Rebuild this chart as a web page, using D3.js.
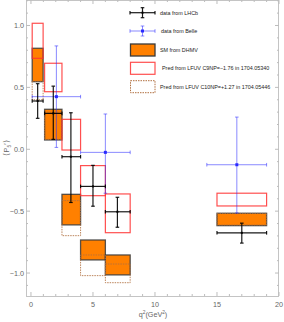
<!DOCTYPE html>
<html><head><meta charset="utf-8">
<script src="https://cdn.jsdelivr.net/npm/d3@7"></script>
<style>body{margin:0;background:#fff}svg{display:block;font-family:"Liberation Sans",Arial,sans-serif}</style>
</head><body><svg id="c" width="284" height="322"></svg>
<script>
// bins
const binLo = [0.1, 1.1, 2.5, 4, 6, 15];
const binHi = [0.98, 2.5, 4, 6, 8, 19];
// LHCb data
const lhcbX = [0.54, 1.8, 3.22, 5.0, 6.97, 17.0];
const lhcbY = [0.39, 0.29, -0.06, -0.30, -0.505, -0.675];
const lhcbUp = [0.14, 0.22, 0.355, 0.17, 0.117, 0.078];
const lhcbDn = [0.14, 0.21, 0.37, 0.16, 0.125, 0.083];
// Belle data
const belleLo = [0.1, 4, 14.18];
const belleHi = [4, 8, 19];
const belleX = [2.05, 6.0, 16.6];
const belleY = [0.425, -0.025, -0.125];
const belleUp = [0.41, 0.31, 0.385];
const belleDn = [0.41, 0.33, 0.39];
// SM DHMV
const smLo = [0.546, 0.075, -0.611, -0.894, -1.015, -0.617];
const smHi = [0.816, 0.323, -0.364, -0.733, -0.854, -0.517];
// LFUV C9NP = -1.76
const c9Lo = [0.735, 0.465, -0.006, -0.375, -0.674, -0.458];
const c9Hi = [1.018, 0.695, 0.242, -0.132, -0.361, -0.355];
// LFUV C10NP = +1.27
const c10Lo = [0.40, 0.08, -0.698, -1.021, -1.078, -0.612];
const c10Hi = [0.55, 0.30, -0.415, -0.854, -0.927, -0.518];
// ticks
const xTicks = [0, 5, 10, 15, 20];
const yTicks = [-1.0, -0.5, 0.0, 0.5, 1.0];
const legendLabels = ["data from LHCb", "data from Belle", "SM from DHMV",
  "Pred from LFUV C9NP=\u22121.76 in 1704.05340", "Pred from LFUV C10NP=+1.27 in 1704.05446"];

const L = 26, R = 279, T = 0, B = 296;
const x = d3.scaleLinear().domain([-0.4, 20]).range([L, R]);
const y = d3.scaleLinear().domain([-1.1855, 1.206]).range([B, T]);
const svg = d3.select("#c");
const frameC = "#c4c4c4", tickC = "#bdbdbd", labC = "#666";

// frame
svg.append("rect").attr("x", L + 0.5).attr("y", T + 0.5).attr("width", R - L - 1).attr("height", B - T)
  .attr("fill", "none").attr("stroke", frameC).attr("stroke-width", 1);

// ticks
const g = svg.append("g");
d3.range(0, 21, 1).forEach(v => {
  const len = v % 5 === 0 ? 4 : 2;
  g.append("line").attr("x1", x(v)).attr("x2", x(v)).attr("y1", B).attr("y2", B - len).attr("stroke", tickC);
  g.append("line").attr("x1", x(v)).attr("x2", x(v)).attr("y1", T).attr("y2", T + len).attr("stroke", tickC);
});
d3.range(-11, 13, 1).forEach(i => {
  const v = i / 10;
  const len = i % 5 === 0 ? 4 : 2;
  g.append("line").attr("y1", y(v)).attr("y2", y(v)).attr("x1", L).attr("x2", L + len).attr("stroke", tickC);
  g.append("line").attr("y1", y(v)).attr("y2", y(v)).attr("x1", R).attr("x2", R - len).attr("stroke", tickC);
});
xTicks.forEach(v => g.append("text").attr("x", x(v)).attr("y", 307).attr("text-anchor", "middle")
  .attr("font-size", 7.2).attr("fill", labC).text(v));
yTicks.forEach(v => g.append("text").attr("x", 24).attr("y", y(v) + 2.5).attr("text-anchor", "end")
  .attr("font-size", 7.2).attr("fill", labC).text(v === 0 ? "0.0" : d3.format(".1f")(v).replace("-", "\u2212")));

// axis labels
const yl = svg.append("text").attr("transform", "translate(9,148) rotate(-90)").attr("text-anchor", "middle")
  .attr("font-size", 7.5).attr("fill", labC);
yl.append("tspan").text("\u27E8P");
yl.append("tspan").attr("font-size", 5).attr("dy", 1.5).text("5");
yl.append("tspan").attr("dy", -1.5).text("\u2032\u27E9");
const xl = svg.append("text").attr("x", 153).attr("y", 317).attr("text-anchor", "middle")
  .attr("font-size", 7.2).attr("fill", labC);
xl.append("tspan").text("q");
xl.append("tspan").attr("font-size", 4.8).attr("dy", -3).text("2");
xl.append("tspan").attr("dy", 3).text("(GeV");
xl.append("tspan").attr("font-size", 4.8).attr("dy", -3).text("2");
xl.append("tspan").attr("dy", 3).text(")");

const plot = svg.append("g");
const idx = d3.range(binLo.length);
// SM boxes
plot.selectAll(".sm").data(idx).join("rect")
  .attr("x", i => x(binLo[i])).attr("width", i => x(binHi[i]) - x(binLo[i]))
  .attr("y", i => y(smHi[i])).attr("height", i => y(smLo[i]) - y(smHi[i]))
  .attr("fill", "#ff8000").attr("stroke", "#3a3a3a").attr("stroke-opacity", 0.85).attr("stroke-width", 1.3);
// C10 boxes
plot.selectAll(".c10").data(idx).join("rect")
  .attr("x", i => x(binLo[i])).attr("width", i => x(binHi[i]) - x(binLo[i]))
  .attr("y", i => y(c10Hi[i])).attr("height", i => y(c10Lo[i]) - y(c10Hi[i]))
  .attr("fill", "none").attr("stroke", "#b07040").attr("stroke-opacity", 0.85).attr("stroke-width", 1)
  .attr("stroke-dasharray", "1.5,1");
// C9 boxes
plot.selectAll(".c9").data(idx).join("rect")
  .attr("x", i => x(binLo[i])).attr("width", i => x(binHi[i]) - x(binLo[i]))
  .attr("y", i => y(c9Hi[i])).attr("height", i => y(c9Lo[i]) - y(c9Hi[i]))
  .attr("fill", "none").attr("stroke", "#ff3030").attr("stroke-opacity", 0.85).attr("stroke-width", 1.2);

function errbar(gr, cx, cy, x0, x1, y0, y1, col, op, w, ps) {
  gr.append("line").attr("x1", x0).attr("x2", x1).attr("y1", cy).attr("y2", cy).attr("stroke", col).attr("stroke-opacity", op).attr("stroke-width", w);
  gr.append("line").attr("x1", cx).attr("x2", cx).attr("y1", y0).attr("y2", y1).attr("stroke", col).attr("stroke-opacity", op).attr("stroke-width", w);
  [x0, x1].forEach(xx => gr.append("line").attr("x1", xx).attr("x2", xx).attr("y1", cy - 1.8).attr("y2", cy + 1.8).attr("stroke", col).attr("stroke-opacity", op).attr("stroke-width", w));
  [y0, y1].forEach(yy => gr.append("line").attr("y1", yy).attr("y2", yy).attr("x1", cx - 1.8).attr("x2", cx + 1.8).attr("stroke", col).attr("stroke-opacity", op).attr("stroke-width", w));
  gr.append("rect").attr("x", cx - ps / 2).attr("y", cy - ps / 2).attr("width", ps).attr("height", ps).attr("fill", col);
}
// Belle
belleX.forEach((v, i) => errbar(plot, x(v), y(belleY[i]), x(belleLo[i]), x(belleHi[i]),
  y(belleY[i] + belleUp[i]), y(belleY[i] - belleDn[i]), "#2a2aff", 0.55, 1, 3));
// LHCb
lhcbX.forEach((v, i) => errbar(plot, x(v), y(lhcbY[i]), x(binLo[i]), x(binHi[i]),
  y(lhcbY[i] + lhcbUp[i]), y(lhcbY[i] - lhcbDn[i]), "#000", 0.9, 1.2, 2));

// legend
const lg = svg.append("g");
const rows = [12.7, 31, 50, 68.3, 86.7];
errbar(lg, 142.5, rows[0], 130, 155, rows[0] - 5, rows[0] + 5, "#000", 0.9, 1.2, 2);
errbar(lg, 142.5, rows[1], 130, 155, rows[1] - 5, rows[1] + 5, "#2a2aff", 0.55, 1, 3);
lg.append("rect").attr("x", 130.5).attr("y", rows[2] - 6).attr("width", 24.5).attr("height", 12)
  .attr("fill", "#ff8000").attr("stroke", "#3a3a3a").attr("stroke-width", 1.3);
lg.append("rect").attr("x", 130.5).attr("y", rows[3] - 6).attr("width", 24.5).attr("height", 12)
  .attr("fill", "#fff").attr("stroke", "#ff3030").attr("stroke-opacity", 0.85).attr("stroke-width", 1.2);
lg.append("rect").attr("x", 130.5).attr("y", rows[4] - 6).attr("width", 24.5).attr("height", 12)
  .attr("fill", "#fff").attr("stroke", "#b07040").attr("stroke-width", 1).attr("stroke-dasharray", "1.5,1");
const textX = [160, 161, 160, 162, 160];
legendLabels.forEach((t, i) => lg.append("text").attr("x", textX[i]).attr("y", rows[i] + 2)
  .attr("font-size", 5.4).attr("fill", "#222").text(t));
</script></body></html>
